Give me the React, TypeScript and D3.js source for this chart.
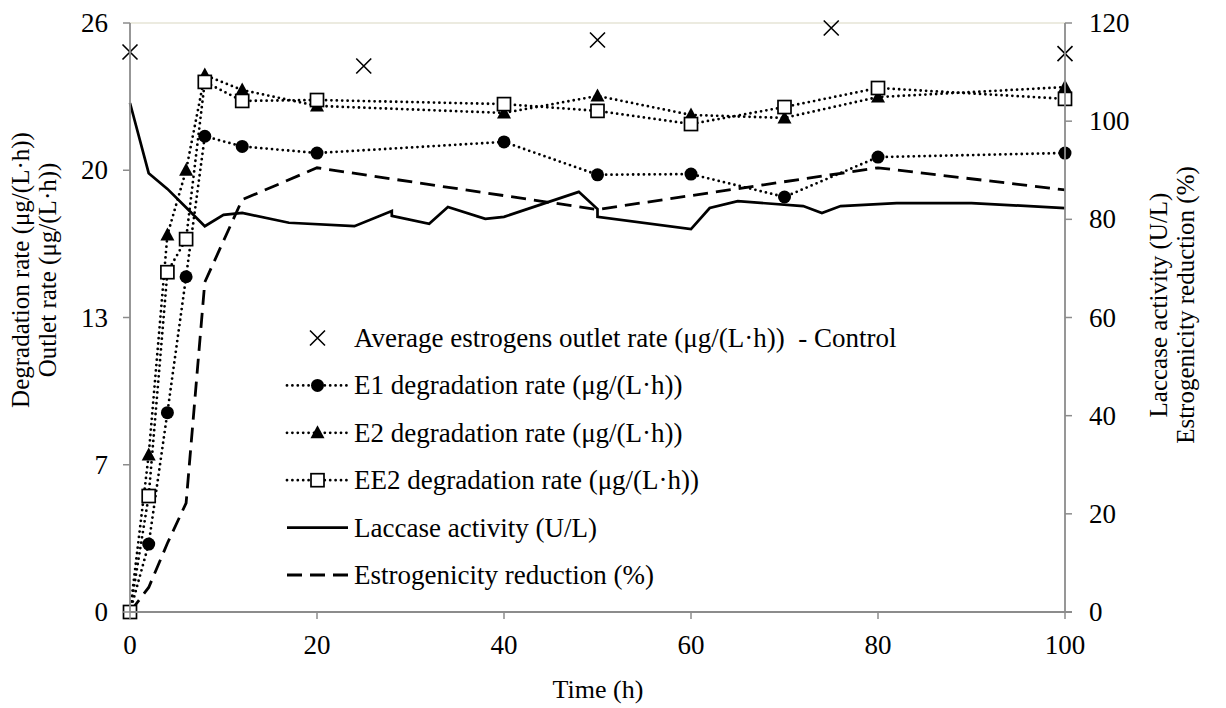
import React from "react";
import * as d3 from "d3";

// time (h)
const controlTime = [0, 25, 50, 75, 100];
const controlRate = [24.72, 24.1, 25.25, 25.78, 24.65];

const degTime = [0, 2, 4, 6, 8, 12, 20, 40, 50, 60, 70, 80, 100];
const e1Rate = [0, 3.0, 8.8, 14.8, 21.0, 20.55, 20.26, 20.75, 19.3, 19.33, 18.32, 20.08, 20.26];
const e2Rate = [0, 6.93, 16.64, 19.5, 23.7, 23.04, 22.34, 22.03, 22.78, 21.94, 21.81, 22.73, 23.17];
const ee2Rate = [0, 5.12, 15.0, 16.46, 23.4, 22.56, 22.6, 22.42, 22.12, 21.54, 22.29, 23.13, 22.65];

const laccaseTime = [0, 2, 4, 6, 8, 10, 12, 17, 24, 28, 28, 32, 34, 38, 40, 48, 50, 50, 60, 62, 65, 72, 74, 76, 82, 90, 100];
const laccaseActivity = [103.7, 89.4, 86.2, 82.4, 78.6, 80.9, 81.3, 79.3, 78.6, 81.7, 80.7, 79.1, 82.5, 80.1, 80.5, 85.6, 82.1, 80.5, 78.0, 82.3, 83.7, 82.7, 81.3, 82.7, 83.3, 83.3, 82.3];

const estroTime = [0, 2, 4, 6, 8, 12, 20, 50, 80, 100];
const estroReduction = [0, 5, 14, 22.2, 67.2, 84, 90.5, 82, 90.5, 86];

const xTicks = [0, 20, 40, 60, 80, 100];
const leftTicks = [0, 6.5, 13, 19.5, 26];
const leftTickLabels = ["0", "7", "13", "20", "26"];
const rightTicks = [0, 20, 40, 60, 80, 100, 120];

const legendLabels = [
  "Average estrogens outlet rate (μg/(L·h))\u00a0 - Control",
  "E1 degradation rate (μg/(L·h))",
  "E2 degradation rate (μg/(L·h))",
  "EE2 degradation rate (μg/(L·h))",
  "Laccase activity (U/L)",
  "Estrogenicity reduction (%)",
];

const FONT = "'Liberation Serif', 'Times New Roman', serif";
const AXIS = "#8c8c8c";

function Marker({ kind, x, y }: { kind: string; x: number; y: number }) {
  if (kind === "circle") return <circle cx={x} cy={y} r={6.5} fill="#000" />;
  if (kind === "triangle") {
    const p = `${x},${y - 7.5} ${x + 7},${y + 5.5} ${x - 7},${y + 5.5}`;
    return <polygon points={p} fill="#000" />;
  }
  if (kind === "square")
    return <rect x={x - 6.5} y={y - 6.5} width={13} height={13} fill="#fff" stroke="#000" strokeWidth={1.7} />;
  // cross
  return (
    <path d={`M${x - 7.5},${y - 7.5}L${x + 7.5},${y + 7.5}M${x - 7.5},${y + 7.5}L${x + 7.5},${y - 7.5}`} stroke="#000" strokeWidth={1.6} />
  );
}

export default function App() {
  const width = 1226,
    height = 708;
  const left = 130,
    right = 1065,
    top = 23,
    bottom = 612;

  const x = d3.scaleLinear().domain([0, 100]).range([left, right]);
  const yL = d3.scaleLinear().domain([0, 26]).range([bottom, top]);
  const yR = d3.scaleLinear().domain([0, 120]).range([bottom, top]);

  const lineL = (xs: number[], ys: number[]) =>
    d3.line<number>().x((d, i) => x(xs[i])).y((d) => yL(d))(ys) || "";
  const lineR = (xs: number[], ys: number[]) =>
    d3.line<number>().x((d, i) => x(xs[i])).y((d) => yR(d))(ys) || "";

  const dotted = { fill: "none", stroke: "#000", strokeWidth: 2.8, strokeDasharray: "0,5.4", strokeLinecap: "round" as const };
  const degSeries = [
    { vals: e1Rate, kind: "circle" },
    { vals: e2Rate, kind: "triangle" },
    { vals: ee2Rate, kind: "square" },
  ];

  const legX = 287,
    legX2 = 348,
    legTextX = 354,
    legY0 = 338,
    legStep = 47.4;
  const fs = 27;

  return (
    <svg width={width} height={height} style={{ position: "absolute", left: 0, top: 0, background: "#fff" }} fontFamily={FONT}>
      {/* top frame line */}
      <line x1={left} x2={right} y1={top} y2={top} stroke="#e6e4d6" strokeWidth={1.5} />

      {/* right axis series */}
      <path d={lineR(estroTime, estroReduction)} fill="none" stroke="#000" strokeWidth={2.8} strokeDasharray="15,8" />
      <path d={lineR(laccaseTime, laccaseActivity)} fill="none" stroke="#000" strokeWidth={2.7} />

      {/* degradation series */}
      {degSeries.map((s, si) => (
        <g key={si}>
          <path d={lineL(degTime, s.vals)} {...dotted} />
          {s.vals.map((v, i) => (
            <Marker key={i} kind={s.kind} x={x(degTime[i])} y={yL(v)} />
          ))}
        </g>
      ))}

      {/* control */}
      {controlRate.map((v, i) => (
        <Marker key={i} kind="cross" x={x(controlTime[i])} y={yL(v)} />
      ))}

      {/* axes */}
      <line x1={left} x2={left} y1={top} y2={bottom} stroke={AXIS} strokeWidth={1.8} />
      <line x1={right} x2={right} y1={top} y2={bottom} stroke={AXIS} strokeWidth={1.8} />
      <line x1={left} x2={right + 7} y1={bottom} y2={bottom} stroke={AXIS} strokeWidth={1.8} />
      {xTicks.map((t) => (
        <g key={t}>
          <line x1={x(t)} x2={x(t)} y1={bottom} y2={bottom + 7} stroke={AXIS} strokeWidth={1.5} />
          <text x={x(t)} y={bottom + 42} textAnchor="middle" fontSize={fs}>
            {t}
          </text>
        </g>
      ))}
      {leftTicks.map((t, i) => (
        <g key={t}>
          <line x1={left - 7} x2={left} y1={yL(t)} y2={yL(t)} stroke={AXIS} strokeWidth={1.5} />
          <text x={left - 22} y={yL(t) + 9} textAnchor="end" fontSize={fs}>
            {leftTickLabels[i]}
          </text>
        </g>
      ))}
      {rightTicks.map((t) => (
        <g key={t}>
          <line x1={right} x2={right + 7} y1={yR(t)} y2={yR(t)} stroke={AXIS} strokeWidth={1.5} />
          <text x={right + 24} y={yR(t) + 9} textAnchor="start" fontSize={fs}>
            {t}
          </text>
        </g>
      ))}

      {/* axis titles */}
      <text x={598} y={698} textAnchor="middle" fontSize={26}>
        Time (h)
      </text>
      <g transform="translate(29,270) rotate(-90)">
        <text x={0} y={0} textAnchor="middle" fontSize={25}>
          Degradation rate (μg/(L·h))
        </text>
        <text x={0} y={27} textAnchor="middle" fontSize={25}>
          Outlet rate (μg/(L·h))
        </text>
      </g>
      <g transform="translate(1167,305) rotate(-90)">
        <text x={0} y={0} textAnchor="middle" fontSize={25}>
          Laccase activity (U/L)
        </text>
        <text x={0} y={27} textAnchor="middle" fontSize={25}>
          Estrogenicity reduction (%)
        </text>
      </g>

      {/* legend */}
      {legendLabels.map((lab, i) => {
        const ly = legY0 + i * legStep;
        const mx = (legX + legX2) / 2;
        return (
          <g key={lab}>
            {i >= 1 && i <= 3 && (
              <>
                <line x1={legX} x2={legX2} y1={ly} y2={ly} {...dotted} />
                <Marker kind={degSeries[i - 1].kind} x={mx} y={ly} />
              </>
            )}
            {i === 0 && <Marker kind="cross" x={mx} y={ly} />}
            {i === 4 && <line x1={legX} x2={legX2} y1={ly} y2={ly} stroke="#000" strokeWidth={2.7} />}
            {i === 5 && <line x1={legX} x2={legX2} y1={ly} y2={ly} stroke="#000" strokeWidth={2.8} strokeDasharray="15,8" />}
            <text x={legTextX} y={ly + 9} fontSize={fs}>
              {lab}
            </text>
          </g>
        );
      })}
    </svg>
  );
}
